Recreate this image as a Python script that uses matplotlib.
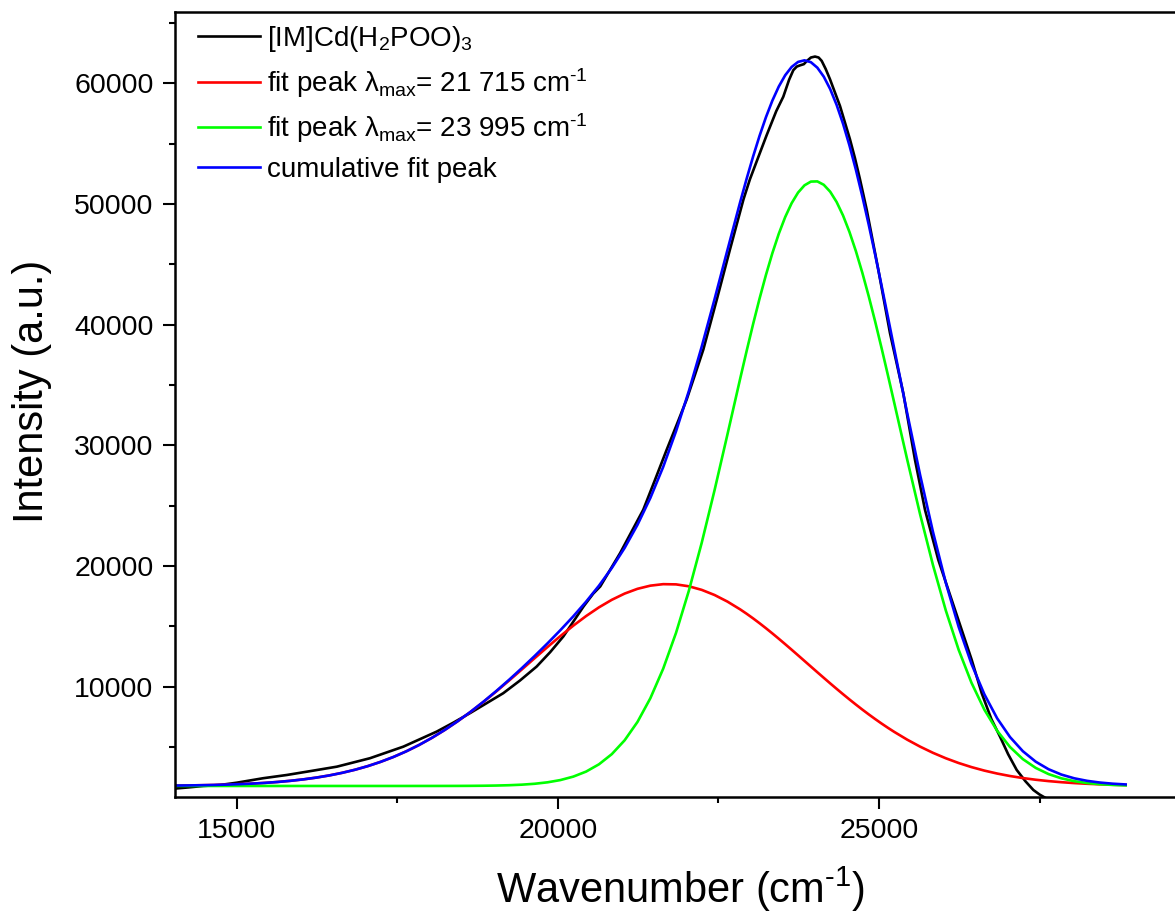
import matplotlib
matplotlib.use("Agg")
import matplotlib.pyplot as plt
from matplotlib.ticker import MultipleLocator, FixedLocator

plt.rcParams['font.family'] = ['Liberation Sans', 'DejaVu Sans']
plt.rcParams['mathtext.default'] = 'regular'

# ---------------- data ----------------
# measured spectrum
data_x = [14030, 14250, 14480, 14740, 15000, 15410, 15780, 16190, 16560, 17075,
          17595, 18115, 18370, 18630, 19150, 19410, 19670, 19880, 20085, 20400,
          20550, 20660, 20970, 21330, 21510, 21695, 21850, 22005, 22135, 22265,
          22475, 22680, 22890, 22990, 23100, 23250, 23400, 23510, 23600, 23666,
          23720, 23770, 23830, 23874, 23940, 24004, 24060, 24108, 24170, 24237,
          24393, 24548, 24626, 24704, 24808, 24989, 25171, 25378, 25560, 25716,
          25923, 26183, 26443, 26599, 26750, 26884, 27010, 27144, 27280, 27403,
          27500, 27559, 27650]
data_y = [1540, 1640, 1760, 1840, 2030, 2400, 2670, 3030, 3360, 4060,
          5020, 6270, 7000, 7790, 9450, 10500, 11660, 12850, 14150, 16640,
          17700, 18300, 21070, 24660, 27100, 29640, 31700, 33790, 35850, 37940,
          42090, 46240, 50390, 52050, 53600, 55700, 57700, 58900, 60300, 61100,
          61400, 61500, 61600, 61850, 62150, 62230, 62150, 61870, 61200, 60350,
          58130, 55370, 53800, 52050, 49550, 44570, 39310, 34330, 28810, 24660,
          20510, 16370, 12220, 9450, 7300, 5850, 4400, 3087, 2150, 1427,
          1050, 870, 600]

# fitted curves (sampled every 200 cm-1, every 100 cm-1 around the maximum)
fit_x = [14040, 14240, 14440, 14640, 14840, 15040, 15240, 15440, 15640, 15840,
         16040, 16240, 16440, 16640, 16840, 17040, 17240, 17440, 17640, 17840,
         18040, 18240, 18440, 18640, 18840, 19040, 19240, 19440, 19640, 19840,
         20040, 20240, 20440, 20640, 20840, 21040, 21240, 21440, 21640, 21840,
         22040, 22240, 22440, 22640, 22840, 22940, 23040, 23140, 23240, 23340,
         23440, 23540, 23640, 23740, 23840, 23940, 24040, 24140, 24240, 24340,
         24440, 24540, 24640, 24740, 24840, 24940, 25040, 25140, 25240, 25440,
         25640, 25840, 26040, 26240, 26440, 26640, 26840, 27040, 27240, 27440,
         27640, 27840, 28040, 28240, 28440, 28640, 28840]
fit_red = [1792, 1804, 1821, 1842, 1871, 1908, 1955, 2016, 2093, 2189,
           2308, 2454, 2632, 2847, 3102, 3404, 3757, 4164, 4631, 5159,
           5750, 6404, 7120, 7894, 8720, 9590, 10495, 11422, 12358, 13285,
           14187, 15047, 15846, 16567, 17193, 17709, 18104, 18366, 18490, 18472,
           18313, 18017, 17591, 17046, 16395, 16034, 15653, 15253, 14837, 14407,
           13965, 13513, 13055, 12591, 12124, 11656, 11189, 10726, 10266, 9814,
           9369, 8934, 8509, 8095, 7695, 7308, 6935, 6577, 6235, 5596,
           5021, 4508, 4057, 3663, 3324, 3034, 2789, 2584, 2415, 2276,
           2163, 2072, 1999, 1942, 1897, 1863, 1836]
fit_green = [1760, 1760, 1760, 1760, 1760, 1760, 1760, 1760, 1760, 1760,
             1760, 1760, 1760, 1760, 1760, 1760, 1760, 1760, 1760, 1761,
             1761, 1763, 1765, 1770, 1779, 1795, 1822, 1868, 1943, 2063,
             2250, 2534, 2952, 3555, 4398, 5547, 7069, 9029, 11480, 14453,
             17948, 21921, 26283, 30891, 35556, 37839, 40050, 42156, 44127, 45932,
             47542, 48930, 50075, 50954, 51555, 51865, 51880, 51599, 51027, 50175,
             49056, 47691, 46102, 44316, 42360, 40266, 38064, 35787, 33464, 28798,
             24280, 20078, 16312, 13050, 10314, 8089, 6334, 4988, 3985, 3257,
             2744, 2392, 2156, 2003, 1905, 1845, 1808]
fit_sum = [1792, 1804, 1821, 1842, 1871, 1908, 1955, 2016, 2093, 2189,
           2308, 2454, 2632, 2847, 3102, 3404, 3757, 4164, 4631, 5159,
           5751, 6407, 7125, 7904, 8739, 9625, 10558, 11531, 12541, 13588,
           14678, 15821, 17038, 18362, 19831, 21496, 23413, 25635, 28210, 31165,
           34501, 38179, 42115, 46178, 50191, 52113, 53943, 55649, 57204, 58579,
           59747, 60683, 61369, 61785, 61919, 61761, 61309, 60565, 59534, 58229,
           56665, 54865, 52851, 50651, 48295, 45814, 43240, 40604, 37938, 32635,
           27541, 22827, 18609, 14953, 11878, 9363, 7363, 5812, 4639, 3773,
           3147, 2704, 2395, 2185, 2043, 1948, 1885]

HY = "\u2010"  # short hyphen used in the superscript
labels = ["[IM]Cd(H$_2$POO)$_3$",
          "fit peak λ$_{max}$= 21 715 cm$^{" + HY + "1}$",
          "fit peak λ$_{max}$= 23 995 cm$^{" + HY + "1}$",
          "cumulative fit peak"]
colors = ["#000000", "#FF0000", "#00FF00", "#0000FF"]

x_major = [15000, 20000, 25000]
y_major = [10000, 20000, 30000, 40000, 50000, 60000]

# ---------------- figure ----------------
fig = plt.figure(figsize=(11.75, 9.17), dpi=100)
# axes extends slightly past the right edge of the picture (right frame cut off)
ax = fig.add_axes([0.1489, 0.1312, 0.8613, 0.8554])

lw = 1.9
ax.plot(data_x, data_y, color=colors[0], lw=lw, label=labels[0])
ax.plot(fit_x, fit_red, color=colors[1], lw=lw, label=labels[1])
ax.plot(fit_x, fit_green, color=colors[2], lw=lw, label=labels[2])
ax.plot(fit_x, fit_sum, color=colors[3], lw=lw, label=labels[3])

ax.set_xlim(14039, 29795)
ax.set_ylim(871, 65900)

ax.xaxis.set_major_locator(FixedLocator(x_major))
ax.xaxis.set_minor_locator(MultipleLocator(2500))
ax.yaxis.set_major_locator(FixedLocator(y_major))
ax.yaxis.set_minor_locator(MultipleLocator(5000))
ax.tick_params(which='both', direction='out', width=1.5, labelsize=20.5,
               top=False, right=False, pad=7, color='black')
ax.tick_params(which='major', length=8.5)
ax.tick_params(which='minor', length=4)

for side in ['left', 'bottom', 'top', 'right']:
    ax.spines[side].set_linewidth(1.8)

ax.set_xlabel("Wavenumber (cm$^{" + HY + "1}$)", fontsize=30, labelpad=15)
ax.set_ylabel("Intensity (a.u.)", fontsize=30)
ax.yaxis.set_label_coords(-0.1215, 0.517)

leg = ax.legend(loc='upper left', bbox_to_anchor=(0.0227, 0.985), frameon=False,
                fontsize=20, handlelength=2.23, handletextpad=0.25,
                labelspacing=0.42, borderpad=0, borderaxespad=0)

fig.savefig("out.png", dpi=100)
